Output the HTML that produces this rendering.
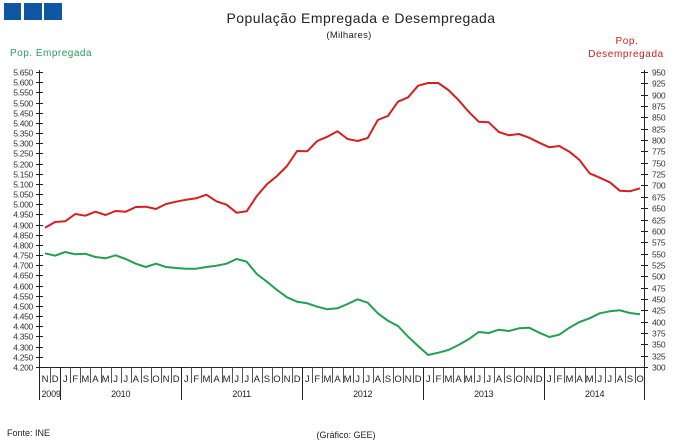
<!DOCTYPE html>
<html><head><meta charset="utf-8"><style>
html,body{margin:0;padding:0;background:#fff;width:680px;height:446px;overflow:hidden}
svg{display:block}
text{font-family:"Liberation Sans",sans-serif}
</style></head><body>
<svg id="s" width="680" height="446" viewBox="0 0 680 446" xmlns="http://www.w3.org/2000/svg">
<rect x="0" y="0" width="680" height="446" fill="#fff"/>
<rect x="4" y="3" width="17" height="17" fill="#0f56a3"/>
<rect x="24" y="3" width="18" height="17" fill="#0f56a3"/>
<rect x="44" y="3" width="18" height="17" fill="#0f56a3"/>
<text x="361" y="23" font-size="14" text-anchor="middle" fill="#222" letter-spacing="0.45">População Empregada e Desempregada</text>
<text x="349" y="38" font-size="9.5" text-anchor="middle" fill="#222" letter-spacing="0.3">(Milhares)</text>
<text x="10" y="56" font-size="10" fill="#2a9d5c" letter-spacing="0.5">Pop. Empregada</text>
<text x="627" y="44" font-size="10" fill="#cc2222" text-anchor="middle" letter-spacing="0.6">Pop.</text>
<text x="626" y="57" font-size="10" fill="#cc2222" text-anchor="middle" letter-spacing="0.6">Desempregada</text>
<g id="axes" stroke="#222" stroke-width="1" fill="none"></g>
<g id="labels" font-size="8.5" fill="#333"></g>
<polyline id="red" fill="none" stroke="#d42020" stroke-width="2" stroke-linejoin="round"/>
<polyline id="green" fill="none" stroke="#22a052" stroke-width="2" stroke-linejoin="round"/>
<text x="7" y="436" font-size="9" fill="#222">Fonte: INE</text>
<text x="346" y="438" font-size="9" fill="#222" text-anchor="middle">(Gráfico: GEE)</text>
</svg>
<script>
(function(){
var NS="http://www.w3.org/2000/svg";
function el(p,t,a,txt){var e=document.createElementNS(NS,t);for(var k in a)e.setAttribute(k,a[k]);if(txt!==undefined)e.textContent=txt;p.appendChild(e);return e;}
var ax=document.getElementById('axes'),lb=document.getElementById('labels');
var L=39.5,R=644.5,B=367.5,T=72;
el(ax,'line',{x1:L,y1:T-2,x2:L,y2:400});
el(ax,'line',{x1:R,y1:T-2,x2:R,y2:400});
el(ax,'line',{x1:L,y1:B,x2:R,y2:B});
for(var k=0;k<=29;k++){var y=Math.round(367-k*10.172)+0.5;
 el(ax,'line',{x1:36,y1:y,x2:43,y2:y});
 var v=4200+50*k,s=String(v);s=s[0]+'.'+s.slice(1);
 el(lb,'text',{x:33,y:y+3,'text-anchor':'end','letter-spacing':'-0.3'},s);}
for(var k=0;k<=26;k++){var y=Math.round(367-k*11.346)+0.5;
 el(ax,'line',{x1:641,y1:y,x2:648,y2:y});
 el(lb,'text',{x:652,y:y+3,'letter-spacing':'-0.3'},String(300+25*k));}
var months="NDJFMAMJJASOJFMAMJJASOND".split('');
var seq=['N','D'];var mm="JFMAMJJASOND".split('');
for(var yr=0;yr<5;yr++)for(var m=0;m<12;m++){if(seq.length<60)seq.push(mm[m]);}
function b(k){return 40+10.085*k;}
for(var k=1;k<60;k++){var x=Math.round(b(k))+0.5;
 var yb=((k-2)%12===0)?400:383;
 el(ax,'line',{x1:x,y1:B,x2:x,y2:yb,stroke:(yb==400?'#222':'#555')});}
for(var i=0;i<60;i++){el(lb,'text',{x:(b(i)+b(i+1))/2,y:382,'text-anchor':'middle','font-size':'9.5',fill:'#222'},seq[i]);}
var yrs=[[0,2,'2009'],[2,14,'2010'],[14,26,'2011'],[26,38,'2012'],[38,50,'2013'],[50,60,'2014']];
yrs.forEach(function(a){el(lb,'text',{x:(b(a[0])+b(a[1]))/2+(a[2]=='2009'?1:0),y:397,'text-anchor':'middle','font-size':'9',fill:'#222','letter-spacing':'-0.2'},a[2]);});
var red=[227.7,222,221.3,214,215.7,211.7,215,211,211.7,207,206.7,209,204,201.7,199.7,198.3,194.7,201.3,204.7,212.7,211.3,196,184.3,176,166,151,151.3,141,136.7,131.3,139,141,138,120,116,101.7,97.3,85.7,83,83,90,100,111.7,121.7,122.3,132,135.3,134,137.7,142.7,147.3,146,151.7,160,173.3,177.7,182.3,190.7,191.3,188.3];
var green=[253.3,255.7,252,254.3,253.7,257,258.3,255.3,259,263.7,267,263.7,267,268,268.7,268.7,267,265.7,263.7,259,261.7,274,281.7,290,297.3,301.7,303.3,306.7,309.3,308.3,304,299.3,302.7,313.3,320.7,326,336.7,346,355,352.7,350,345,339.3,332,333,329.7,331,328.3,327.7,332.7,337,334.7,327.7,322,318.3,313.3,311.3,310.3,313,314.3];
function pts(a){return a.map(function(y,i){return (45+i*10.085).toFixed(1)+','+y;}).join(' ');}
document.getElementById('red').setAttribute('points',pts(red));
document.getElementById('green').setAttribute('points',pts(green));
})();
</script>
</body></html>
